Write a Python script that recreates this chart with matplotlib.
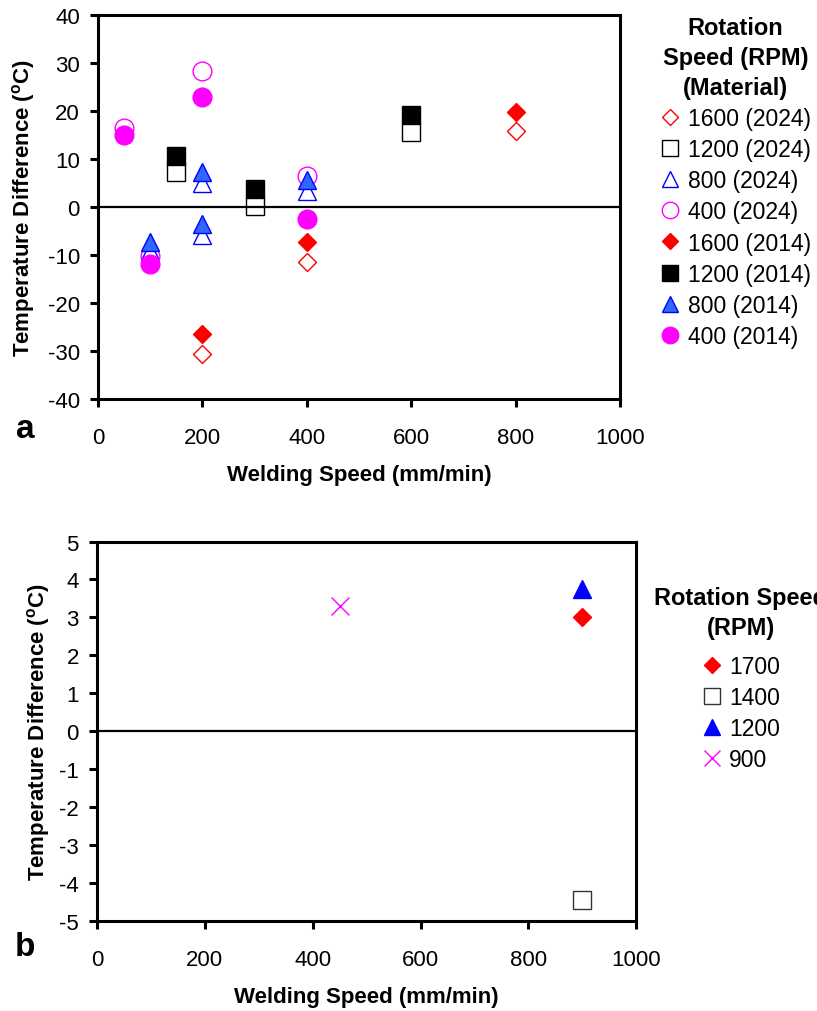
import matplotlib
matplotlib.use("Agg")
import matplotlib.pyplot as plt
from matplotlib.lines import Line2D

plt.rcParams['font.family'] = ['Liberation Sans', 'DejaVu Sans']
plt.rcParams['mathtext.fontset'] = 'custom'
plt.rcParams['mathtext.rm'] = 'Liberation Sans'
plt.rcParams['mathtext.bf'] = 'Liberation Sans:bold'
plt.rcParams['axes.unicode_minus'] = False

# (a) temperature difference vs welding speed, AA2024 (open) and AA2014 (filled)
labels_a = ['1600 (2024)', '1200 (2024)', '800 (2024)', '400 (2024)',
            '1600 (2014)', '1200 (2014)', '800 (2014)', '400 (2014)']
speed_a = [
    [200, 400, 800],
    [150, 300, 600],
    [100, 200, 200, 400],
    [50, 100, 200, 400],
    [200, 400, 800],
    [150, 300, 600],
    [100, 200, 200, 400],
    [50, 100, 200, 400],
]
dtemp_a = [
    [-30.6, -11.5, 15.9],
    [7.3, 0.2, 15.7],
    [-9.2, 4.9, -5.8, 3.3],
    [16.5, -10.2, 28.3, 6.4],
    [-26.4, -7.2, 19.7],
    [10.7, 3.7, 19.2],
    [-7.3, 7.2, -3.5, 5.6],
    [15.0, -11.9, 23.0, -2.4],
]

# (b) single-material runs
labels_b = ['1700', '1400', '1200', '900']
speed_b = [[900], [900], [900], [450]]
dtemp_b = [[3.0], [-4.45], [3.75], [3.3]]

# marker, size, face, edge, edge width
style_a = [
    ('D', 9.2, 'none', '#FF0000', 1.0),
    ('s', 12.5, 'none', '#000000', 1.0),
    ('^', 13, 'none', '#0000FF', 1.0),
    ('o', 13.5, 'none', '#FF00FF', 1.0),
    ('D', 9.2, '#FF0000', '#FF0000', 1.0),
    ('s', 12.5, '#000000', '#000000', 1.0),
    ('^', 13, '#3366FF', '#0000FF', 1.0),
    ('o', 13.5, '#FF00FF', '#FF00FF', 1.0),
]
style_b = [
    ('D', 9.2, '#FF0000', '#FF0000', 1.0),
    ('s', 12.5, 'none', '#333333', 1.0),
    ('^', 13, '#0000FF', '#0000FF', 1.0),
    ('x', 13, '#FF00FF', '#FF00FF', 1.0),
]

ylab = r'Temperature Difference ($\mathbf{^{o}}$C)'
tick_fs = 16
lab_fs = 16
leg_fs = 16.5
title_fs = 17


def style_axes(ax):
    for sp in ax.spines.values():
        sp.set_linewidth(2.2)
    ax.tick_params(direction='out', length=6, width=2.2, labelsize=tick_fs)
    ax.tick_params(axis='x', pad=14)
    ax.tick_params(axis='y', pad=7)
    ax.axhline(0, color='black', lw=1.6, zorder=1)


def draw_series(ax, xs, ys, styles, labels):
    handles = []
    for x, y, st, lab in zip(xs, ys, styles, labels):
        m, ms, fc, ec, mew = st
        ax.plot(x, y, linestyle='none', marker=m, markersize=ms,
                markerfacecolor=fc, markeredgecolor=ec, markeredgewidth=mew,
                zorder=3, clip_on=False)
        handles.append(Line2D([], [], linestyle='none', marker=m, markersize=ms * 0.88,
                              markerfacecolor=fc, markeredgecolor=ec,
                              markeredgewidth=mew, label=lab))
    return handles


def add_legend(ax, handles, title, anchor, title_gap=None):
    leg = ax.legend(handles=handles, loc='upper left', bbox_to_anchor=anchor,
                    bbox_transform=fig.transFigure, frameon=False, fontsize=leg_fs,
                    title=title,
                    title_fontproperties={'weight': 'bold', 'size': title_fs},
                    handlelength=0.9, handletextpad=0.3, labelspacing=0.35,
                    borderpad=0, borderaxespad=0)
    leg.get_title().set_multialignment('center')
    leg.get_title().set_linespacing(1.4)
    if title_gap is not None:
        # extra room between the title block and the entries (points)
        leg._legend_box.sep = title_gap
    return leg


fig = plt.figure(figsize=(8.17, 10.12), dpi=100)

ax1 = fig.add_axes([0.120, 0.6047, 0.639, 0.3795])
h1 = draw_series(ax1, speed_a, dtemp_a, style_a, labels_a)
ax1.set_xlim(0, 1000)
ax1.set_ylim(-40, 40)
ax1.set_xticks(range(0, 1001, 200))
ax1.set_yticks(range(-40, 41, 10))
style_axes(ax1)
ax1.set_xlabel('Welding Speed (mm/min)', fontsize=lab_fs, fontweight='bold', labelpad=12)
ax1.set_ylabel(ylab, fontsize=lab_fs, fontweight='bold', labelpad=8)
add_legend(ax1, h1, 'Rotation\nSpeed (RPM)\n(Material)', (660 / 817, 1 - 17 / 1012))
fig.text(25 / 817, 1 - 429 / 1012, 'a', fontsize=24, fontweight='bold',
         ha='center', va='center')

ax2 = fig.add_axes([0.1187, 0.0889, 0.660, 0.375])
h2 = draw_series(ax2, speed_b, dtemp_b, style_b, labels_b)
ax2.set_xlim(0, 1000)
ax2.set_ylim(-5, 5)
ax2.set_xticks(range(0, 1001, 200))
ax2.set_yticks(range(-5, 6, 1))
style_axes(ax2)
ax2.set_xlabel('Welding Speed (mm/min)', fontsize=lab_fs, fontweight='bold', labelpad=12)
ax2.set_ylabel(ylab, fontsize=lab_fs, fontweight='bold', labelpad=5)
add_legend(ax2, h2, 'Rotation Speed\n(RPM)', (654 / 817, 1 - 587 / 1012), title_gap=11.5)
fig.text(25 / 817, 1 - 948 / 1012, 'b', fontsize=24, fontweight='bold',
         ha='center', va='center')

fig.savefig('out.png', dpi=100)
